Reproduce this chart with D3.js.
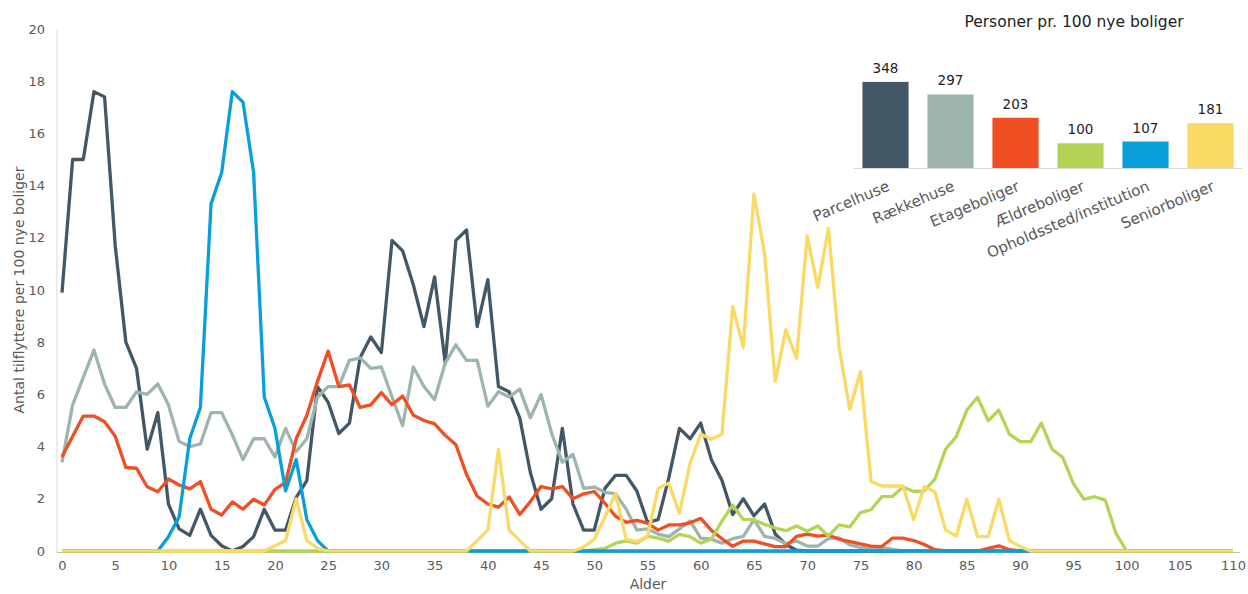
<!DOCTYPE html>
<html>
<head>
<meta charset="utf-8">
<script src="https://cdn.jsdelivr.net/npm/d3@7"></script>
<style>
  body { margin: 0; background: #fff; }
  svg { font-family: "DejaVu Sans", Verdana, sans-serif; }
</style>
</head>
<body>
<div id="chart"></div>
<script>
// Alder 0..110
const ages = d3.range(0, 111);

// Antal tilflyttere per 100 nye boliger, pr. alder
const parcelhuse = [9.9, 15.0, 15.0, 17.6, 17.4, 11.7, 8.0, 7.0, 3.9, 5.3,
  1.8, 0.85, 0.6, 1.6, 0.6, 0.2, 0, 0.17, 0.55, 1.6,
  0.8, 0.8, 2.05, 2.7, 6.3, 5.7, 4.5, 4.9, 7.4, 8.2,
  7.6, 11.9, 11.5, 10.2, 8.6, 10.5, 7.2, 11.9, 12.3, 8.6,
  10.4, 6.3, 6.1, 5.1, 3.0, 1.6, 2.0, 4.7, 1.8, 0.8,
  0.8, 2.4, 2.9, 2.9, 2.3, 1.1, 1.2, 2.8, 4.7, 4.3,
  4.9, 3.5, 2.7, 1.4, 2.0, 1.35, 1.8, 0.65, 0.25, 0.03,
  0, 0, 0, 0, 0, 0, 0, 0, 0, 0,
  0, 0, 0, 0, 0, 0, 0, 0, 0, 0,
  0, 0, 0, 0, 0, 0, 0, 0, 0, 0,
  0, 0, 0, 0, 0, 0, 0, 0, 0, 0, 0];

const raekkehuse = [3.4, 5.6, 6.65, 7.7, 6.4, 5.5, 5.5, 6.1, 6.0, 6.4,
  5.6, 4.2, 4.0, 4.1, 5.3, 5.3, 4.45, 3.5, 4.3, 4.3,
  3.6, 4.7, 3.8, 4.3, 5.9, 6.3, 6.3, 7.3, 7.4, 7.0,
  7.05, 5.9, 4.8, 7.05, 6.3, 5.8, 7.2, 7.9, 7.3, 7.3,
  5.55, 6.1, 5.9, 6.2, 5.1, 6.0, 4.5, 3.4, 3.7, 2.4,
  2.45, 2.25, 2.2, 1.6, 0.8, 0.85, 0.65, 0.55, 0.85, 1.15,
  0.49, 0.45, 0.3, 0.47, 0.56, 1.2, 0.56, 0.48, 0.29, 0.38,
  0.19, 0.19, 0.48, 0.5, 0.23, 0.14, 0.1, 0.14, 0.06, 0,
  0, 0, 0, 0, 0, 0, 0, 0, 0, 0,
  0, 0, 0, 0, 0, 0, 0, 0, 0, 0,
  0, 0, 0, 0, 0, 0, 0, 0, 0, 0, 0];

const etageboliger = [3.6, 4.4, 5.17, 5.17, 4.95, 4.4, 3.2, 3.17, 2.46, 2.27,
  2.76, 2.53, 2.38, 2.66, 1.6, 1.38, 1.88, 1.6, 1.98, 1.76,
  2.36, 2.62, 4.3, 5.2, 6.5, 7.66, 6.3, 6.36, 5.5, 5.6,
  6.07, 5.6, 5.94, 5.2, 5.0, 4.87, 4.43, 4.07, 2.93, 2.1,
  1.8, 1.68, 2.07, 1.4, 1.89, 2.47, 2.38, 2.47, 2.0, 2.19,
  2.28, 1.83, 1.33, 1.1, 1.17, 1.07, 0.8, 1.0, 1.0, 1.08,
  1.25, 0.79, 0.47, 0.18, 0.38, 0.38, 0.27, 0.17, 0.17, 0.56,
  0.65, 0.57, 0.61, 0.45, 0.36, 0.27, 0.19, 0.17, 0.49, 0.49,
  0.4, 0.25, 0.05, 0, 0, 0, 0, 0.1, 0.2, 0.05,
  0, 0, 0, 0, 0, 0, 0, 0, 0, 0,
  0, 0, 0, 0, 0, 0, 0, 0, 0, 0, 0];

const aeldreboliger = [0, 0, 0, 0, 0, 0, 0, 0, 0, 0,
  0, 0, 0, 0, 0, 0, 0, 0, 0, 0,
  0, 0, 0, 0, 0, 0, 0, 0, 0, 0,
  0, 0, 0, 0, 0, 0, 0, 0, 0, 0,
  0, 0, 0, 0, 0, 0, 0, 0, 0, 0,
  0.05, 0.1, 0.3, 0.39, 0.3, 0.57, 0.49, 0.38, 0.64, 0.55,
  0.3, 0.45, 1.15, 1.76, 1.21, 1.19, 1.02, 0.88, 0.78, 0.96,
  0.76, 0.96, 0.57, 1.0, 0.92, 1.47, 1.58, 2.08, 2.09, 2.45,
  2.28, 2.3, 2.75, 3.9, 4.38, 5.4, 5.89, 4.99, 5.4, 4.48,
  4.19, 4.19, 4.9, 3.9, 3.59, 2.59, 1.98, 2.08, 1.95, 0.68,
  0, 0, 0, 0, 0, 0, 0, 0, 0, 0, 0];

const opholdssted = [0, 0, 0, 0, 0, 0, 0, 0, 0, 0,
  0.55, 1.3, 4.3, 5.5, 13.3, 14.5, 17.6, 17.2, 14.5, 5.9,
  4.7, 2.3, 3.5, 1.2, 0.4, 0, 0, 0, 0, 0,
  0, 0, 0, 0, 0, 0, 0, 0, 0, 0,
  0, 0, 0, 0, 0, 0, 0, 0, 0, 0,
  0, 0, 0, 0, 0, 0, 0, 0, 0, 0,
  0, 0, 0, 0, 0, 0, 0, 0, 0, 0,
  0, 0, 0, 0, 0, 0, 0, 0, 0, 0,
  0, 0, 0, 0, 0, 0, 0, 0, 0, 0,
  0, 0, 0, 0, 0, 0, 0, 0, 0, 0,
  0, 0, 0, 0, 0, 0, 0, 0, 0, 0, 0];

const seniorboliger = [0, 0, 0, 0, 0, 0, 0, 0, 0, 0,
  0, 0, 0, 0, 0, 0, 0, 0, 0, 0,
  0.2, 0.4, 2.0, 0.4, 0.1, 0, 0, 0, 0, 0,
  0, 0, 0, 0, 0, 0, 0, 0, 0, 0.4,
  0.8, 3.9, 0.8, 0.4, 0, 0, 0, 0, 0, 0.15,
  0.45, 1.3, 2.2, 0.45, 0.36, 0.57, 2.4, 2.6, 1.44, 3.36,
  4.48, 4.28, 4.48, 9.37, 7.8, 13.68, 11.4, 6.5, 8.47, 7.38,
  12.07, 10.1, 12.36, 7.8, 5.42, 6.87, 2.66, 2.49, 2.49, 2.49,
  1.2, 2.46, 2.27, 0.8, 0.57, 1.98, 0.55, 0.55, 1.98, 0.4,
  0.17, 0, 0, 0, 0, 0, 0, 0, 0, 0,
  0, 0, 0, 0, 0, 0, 0, 0, 0, 0, 0];

// Indsat søjlediagram: personer pr. 100 nye boliger
const boligtyper = ["Parcelhuse", "Rækkehuse", "Etageboliger", "Ældreboliger", "Opholdssted/institution", "Seniorboliger"];
const personer = [348, 297, 203, 100, 107, 181];

const xTicks = d3.range(0, 111, 5);
const yTicks = d3.range(0, 21, 2);

const farver = ["#435866", "#9db5ac", "#f04e23", "#b3d454", "#0a9fdc", "#fad964"];

// rækkefølge for tegning (gul øverst)
const serier = [parcelhuse, raekkehuse, etageboliger, aeldreboliger, opholdssted, seniorboliger];

const width = 1248, height = 594;

const svg = d3.select("#chart")
  .append("svg")
  .attr("width", width)
  .attr("height", height);

// Skalaer
const x = d3.scaleLinear().domain([0, 110]).range([62, 1233]);
const y = d3.scaleLinear().domain([0, 20]).range([551, 29]);

// Akselinjer
svg.append("line")
  .attr("x1", 57).attr("x2", 57)
  .attr("y1", 29).attr("y2", 552)
  .attr("stroke", "#d9d9d9");
svg.append("line")
  .attr("x1", 57).attr("x2", 1240)
  .attr("y1", 552.5).attr("y2", 552.5)
  .attr("stroke", "#bfbfbf");

// Y-akse
const yAxis = svg.append("g")
  .attr("transform", "translate(57,0)")
  .call(d3.axisLeft(y).tickValues(yTicks).tickSize(0).tickPadding(12));
yAxis.select(".domain").remove();
yAxis.selectAll("text")
  .attr("font-size", 13)
  .attr("font-family", "DejaVu Sans, sans-serif")
  .attr("fill", "#595959");

// X-akse
const xAxis = svg.append("g")
  .attr("transform", "translate(0,552)")
  .call(d3.axisBottom(x).tickValues(xTicks).tickSize(0).tickPadding(9));
xAxis.select(".domain").remove();
xAxis.selectAll("text")
  .attr("font-size", 13)
  .attr("font-family", "DejaVu Sans, sans-serif")
  .attr("fill", "#595959");

// Aksetitler
svg.append("text")
  .attr("x", 648).attr("y", 589)
  .attr("text-anchor", "middle")
  .attr("font-size", 14)
  .attr("fill", "#595959")
  .text("Alder");

svg.append("text")
  .attr("transform", "translate(24,290) rotate(-90)")
  .attr("text-anchor", "middle")
  .attr("font-size", 14)
  .attr("fill", "#595959")
  .text("Antal tilflyttere per 100 nye boliger");

// Linjer
const line = d3.line()
  .x((d, i) => x(ages[i]))
  .y(d => y(d));

svg.append("g")
  .selectAll("path")
  .data(serier)
  .enter()
  .append("path")
  .attr("d", d => line(d))
  .attr("fill", "none")
  .attr("stroke", (d, i) => farver[i])
  .attr("stroke-width", 3.3)
  .attr("stroke-linejoin", "round");

// Indsat søjlediagram
const xb = d3.scaleBand()
  .domain(boligtyper)
  .range([853, 1243])
  .paddingInner(0.29)
  .paddingOuter(0.145);
const yb = d3.scaleLinear().domain([0, 400]).range([168, 69]);

const inset = svg.append("g");

inset.append("text")
  .attr("x", 1074).attr("y", 27)
  .attr("text-anchor", "middle")
  .attr("font-size", 15.5)
  .attr("fill", "#222")
  .text("Personer pr. 100 nye boliger");

inset.selectAll("rect")
  .data(personer)
  .enter()
  .append("rect")
  .attr("x", (d, i) => xb(boligtyper[i]))
  .attr("y", d => yb(d))
  .attr("width", xb.bandwidth())
  .attr("height", d => yb(0) - yb(d))
  .attr("fill", (d, i) => farver[i]);

inset.append("line")
  .attr("x1", 853).attr("x2", 1243)
  .attr("y1", 168.5).attr("y2", 168.5)
  .attr("stroke", "#d9d9d9");

inset.selectAll(".val")
  .data(personer)
  .enter()
  .append("text")
  .attr("class", "val")
  .attr("x", (d, i) => xb(boligtyper[i]) + xb.bandwidth() / 2)
  .attr("y", d => yb(d) - 9)
  .attr("text-anchor", "middle")
  .attr("font-size", 13.5)
  .attr("fill", "#222")
  .text(d => d);

inset.selectAll(".kat")
  .data(boligtyper)
  .enter()
  .append("text")
  .attr("class", "kat")
  .attr("transform", d => `translate(${xb(d) + xb.bandwidth() / 2 + 5},190) rotate(-23)`)
  .attr("text-anchor", "end")
  .attr("font-size", 15)
  .attr("fill", "#595959")
  .text(d => d);
</script>
</body>
</html>
